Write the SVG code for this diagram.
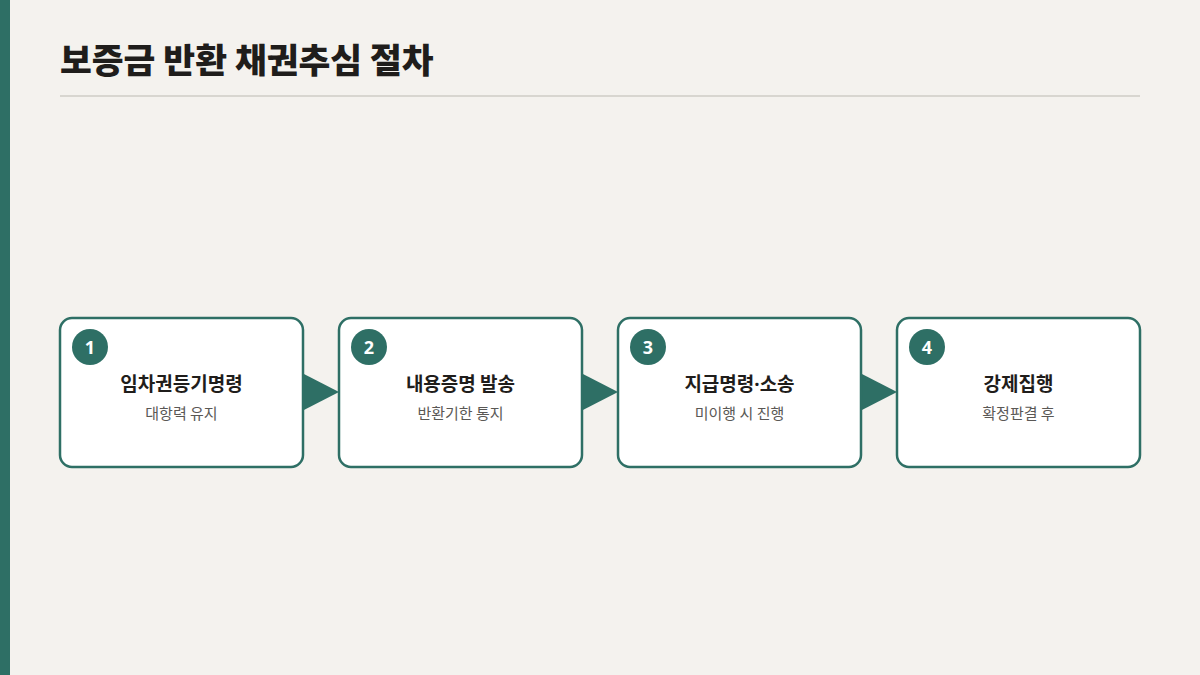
<svg xmlns="http://www.w3.org/2000/svg" width="1200" height="675" viewBox="0 0 1200 675">
<style>
.box{fill:#ffffff;stroke:#2e6f65;stroke-width:2.5}
.badge{fill:#2e6f65}
.num{font-family:"Noto Sans","Noto Sans CJK KR",sans-serif;font-size:18px;font-weight:700;fill:#ffffff;text-anchor:middle}
.t{font-family:"Noto Sans CJK KR",sans-serif;font-size:19px;font-weight:700;fill:#1f1d1b;text-anchor:middle}
.s{font-family:"Noto Sans CJK KR",sans-serif;font-size:15px;fill:#5a5855;text-anchor:middle}
.arr{fill:#2e6f65}
</style>
<rect width="1200" height="675" fill="#f4f2ee"/>
<rect x="0" y="0" width="10" height="675" fill="#2e6f65"/>
<text x="60" y="73" font-family="'Noto Sans CJK KR',sans-serif" font-size="34.6" font-weight="900" fill="#1f1d1b">보증금 반환 채권추심 절차</text>
<rect x="60" y="95" width="1080" height="2" fill="#d8d6d0"/>
<g id="connectors">
<polygon class="arr" points="302,373 339,392 302,411"/>
<polygon class="arr" points="581,373 618,392 581,411"/>
<polygon class="arr" points="860,373 897,392 860,411"/>
</g>
<g id="step1">
<rect class="box" x="60" y="318" width="243" height="149" rx="12"/>
<circle class="badge" cx="90" cy="347" r="18"/>
<text class="num" x="90" y="353.5">1</text>
<text class="t" x="181.5" y="391">임차권등기명령</text>
<text class="s" x="181.5" y="419">대항력 유지</text>
</g>
<g id="step2">
<rect class="box" x="339" y="318" width="243" height="149" rx="12"/>
<circle class="badge" cx="369" cy="347" r="18"/>
<text class="num" x="369" y="353.5">2</text>
<text class="t" x="460.5" y="391">내용증명 발송</text>
<text class="s" x="460.5" y="419">반환기한 통지</text>
</g>
<g id="step3">
<rect class="box" x="618" y="318" width="243" height="149" rx="12"/>
<circle class="badge" cx="648" cy="347" r="18"/>
<text class="num" x="648" y="353.5">3</text>
<text class="t" x="739.5" y="391">지급명령<tspan font-family="'Noto Sans',sans-serif">·</tspan>소송</text>
<text class="s" x="739.5" y="419">미이행 시 진행</text>
</g>
<g id="step4">
<rect class="box" x="897" y="318" width="243" height="149" rx="12"/>
<circle class="badge" cx="927" cy="347" r="18"/>
<text class="num" x="927" y="353.5">4</text>
<text class="t" x="1018.5" y="391">강제집행</text>
<text class="s" x="1018.5" y="419">확정판결 후</text>
</g>
</svg>
